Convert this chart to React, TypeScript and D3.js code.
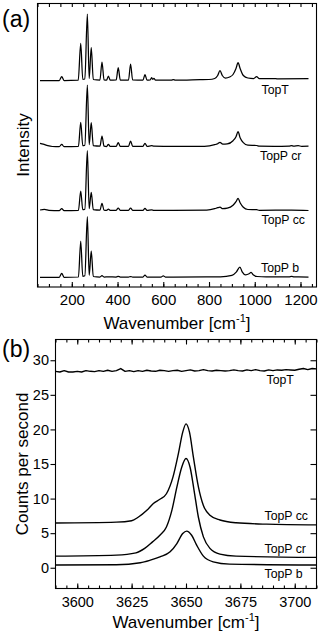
import React, { useRef, useEffect } from "react";
import * as d3 from "d3";

const W = 320;
const H = 634;
const FONT = "'Liberation Sans', Arial, Helvetica, sans-serif";

// ---- panel (a): Raman spectra, [wavenumber, intensity above its own baseline]
const ramanNames = ["TopT", "TopP cr", "TopP cc", "TopP b"];
const ramanOffsets = [206.5, 140.3, 76.3, 9.7];
const ramanLabelPos = [[261.5, 94], [260, 160], [261.5, 224], [261, 272]];

const ramanTopT = [
  [61, 0], [145, 0], [156, 3.8], [166, 0], [228, 0.3], [239, 37], [248, 1.2], [257, 1.5],
  [268, 66.5], [276, 2], [285, 33], [294, 1], [323, 0.5], [332, 18.5], [341, 0.5],
  [352, 0.3], [360, 4.5], [368, 0.3], [394, 0.5], [403, 12.8], [412, 0.5], [448, 0.5],
  [457, 16.5], [466, 0.5], [511, 0.3], [520, 5.8], [529, 0.3], [543, 0.5], [549, 2.8],
  [554, 1.2], [559, 2.2], [566, 0.3], [635, 0.3], [644, 1], [653, 0.3], [760, 0.8],
  [800, 1], [825, 2], [838, 5], [848, 9.8], [858, 5], [872, 2.5], [890, 3.5], [905, 6],
  [918, 12], [927, 17.8], [936, 12], [950, 5], [970, 2.5], [995, 2], [1008, 3.8],
  [1020, 1.8], [1085, 2], [1100, 1.6], [1235, 1.8],
];
const ramanTopPcr = [
  [61, 3.4], [75, 2.6], [95, 1], [115, 0.2], [145, 0], [156, 2.4], [166, 0], [229, 0.3],
  [239, 24.4], [248, 1], [257, 1.5], [268, 61.7], [276, 2], [285, 24], [294, 1], [323, 0.5],
  [332, 10.7], [341, 0.5], [352, 0.2], [360, 2.4], [368, 0.3], [394, 0.4], [403, 4],
  [412, 0.4], [448, 0.4], [457, 5.7], [466, 0.4], [511, 0.3], [520, 3.4], [529, 0.3],
  [549, 1], [559, 0.6], [644, 0.4], [780, 0.4], [825, 2], [838, 3], [848, 4.4], [860, 2.5],
  [880, 2.8], [905, 6], [918, 10], [927, 15], [936, 9], [950, 4], [970, 1.5], [1008, 1.2],
  [1020, 0.5], [1085, 0.4], [1150, 0.6], [1161, 1.2], [1170, 0.5], [1190, 1], [1205, 0.4],
  [1235, 0.5],
];
const ramanTopPcc = [
  [61, 0.7], [80, 1.3], [100, 0.4], [145, 0], [156, 2], [166, 0], [229, 0.3], [239, 19.7],
  [248, 1], [257, 1.5], [268, 60], [276, 2], [285, 18.4], [294, 1], [323, 0.5], [332, 7.4],
  [341, 0.5], [352, 0.3], [360, 1.5], [368, 0.3], [394, 0.4], [403, 2.6], [412, 0.4],
  [448, 0.4], [457, 2.6], [466, 0.4], [511, 0.3], [520, 2.4], [529, 0.3], [549, 0.8],
  [559, 0.4], [644, 0.4], [790, 0.6], [825, 2], [838, 3], [848, 3.5], [860, 2], [880, 2.5],
  [905, 5.5], [918, 9], [927, 12.4], [936, 8], [950, 3.5], [970, 1.2], [1008, 1],
  [1020, 0.4], [1161, 0.6], [1235, 0.2],
];
const ramanTopPb = [
  [61, 0], [145, 0], [156, 4], [166, 0], [229, 0.3], [239, 36.3], [248, 1], [257, 1.5],
  [268, 60.6], [276, 2], [285, 26.3], [294, 0.8], [323, 0.3], [332, 1.6], [341, 0.3],
  [360, 0.5], [394, 0.3], [403, 1], [412, 0.3], [448, 0.3], [457, 0.8], [466, 0.3],
  [511, 0.3], [520, 2.3], [529, 0.3], [591, 0.3], [600, 1.5], [609, 0.3], [644, 0.3],
  [850, 0.5], [900, 2], [920, 5.5], [935, 10.3], [945, 5.5], [960, 2.5], [975, 3.5],
  [984, 5], [993, 2.5], [1010, 0.8], [1050, 0.4], [1150, 0.5], [1161, 0.9], [1172, 0.4],
  [1235, 0.3],
];
const ramanSeries = [ramanTopT, ramanTopPcr, ramanTopPcc, ramanTopPb];
const ramanTickLabels = [200, 400, 600, 800, 1000, 1200];

// ---- panel (b): OH stretch region, counts per second
const irNames = ["TopT", "TopP cc", "TopP cr", "TopP b"];
const irLabelPos = [[266.5, 384], [264.5, 520], [264.5, 552.5], [264.5, 577.5]];

// TopT sampled every 2 cm-1 from 3590
const irTopTStart = 3590;
const irTopTStep = 2;
const irTopT = [
  28.4, 28.3, 28.5, 28.3, 28.3, 28.4, 28.3, 28.5, 28.4, 28.35,
  28.5, 28.4, 28.55, 28.4, 28.5, 28.8, 28.4, 28.5, 28.35, 28.5,
  28.4, 28.55, 28.45, 28.4, 28.55, 28.5, 28.4, 28.5, 28.55, 28.4,
  28.5, 28.6, 28.45, 28.5, 28.65, 28.5, 28.45, 28.55, 28.5, 28.45,
  28.5, 28.6, 28.5, 28.45, 28.6, 28.5, 28.65, 28.5, 28.45, 28.6,
  28.5, 28.6, 28.55, 28.65, 28.6, 28.55, 28.7, 28.8, 28.65, 28.8, 28.75,
];
const irTopPcc = [
  [3590, 6.48], [3618, 6.6], [3625, 6.8], [3628, 7.3], [3632, 8.3], [3635, 9.3],
  [3638, 9.9], [3641, 10.7], [3644, 13.1], [3646.5, 16.5], [3648.5, 19.6], [3650, 20.8],
  [3651.6, 19.6], [3653.4, 16], [3655.7, 11.7], [3658, 9], [3661, 7.6], [3665.6, 6.9],
  [3673, 6.5], [3687, 6.3], [3710, 6.2],
];
const irTopPcr = [
  [3590, 1.68], [3618, 1.83], [3627, 2.16], [3631, 2.8], [3634.6, 3.74], [3638, 4.7],
  [3641, 5.9], [3643.5, 8.3], [3645.8, 11.66], [3648, 14.5], [3650, 15.8], [3651.9, 14.5],
  [3653.7, 11.2], [3655.7, 7.3], [3658, 4.46], [3661, 2.8], [3665.6, 1.97], [3673, 1.68],
  [3710, 1.5],
];
const irTopPb = [
  [3590, 0.39], [3618, 0.43], [3629, 0.72], [3633.6, 1.1], [3638, 1.58], [3642.7, 2.3],
  [3645.8, 3.5], [3648.5, 4.95], [3650.3, 5.3], [3652.6, 4.7], [3654.9, 3.27], [3658, 1.68],
  [3662.5, 0.86], [3670, 0.53], [3710, 0.39],
];
const irYTicks = [0, 5, 10, 15, 20, 25, 30];
const irXTicks = [3600, 3625, 3650, 3675, 3700];

const fmt = d3.format("d");

function styleAxis(g: any, size: number) {
  g.select(".domain").remove();
  g.attr("font-family", FONT).attr("font-size", size);
  g.selectAll("text").attr("fill", "#000");
  g.selectAll("line").attr("stroke", "#000").attr("stroke-width", 1.1);
}

function xLabel(svg: any, x: number, y: number) {
  const t = svg.append("text")
    .attr("x", x).attr("y", y)
    .attr("text-anchor", "middle")
    .attr("font-family", FONT).attr("font-size", 17);
  t.append("tspan").text("Wavenumber [cm");
  t.append("tspan").attr("font-size", 11).attr("dy", -7).text("-1");
  t.append("tspan").attr("dy", 7).text("]");
}

export default function App() {
  const ref = useRef<SVGSVGElement>(null);

  useEffect(() => {
    const svg = d3.select(ref.current);
    svg.selectAll("*").remove();

    // ================= panel (a)
    const aL = 37.5, aR = 316.5, aT = 3.5, aB = 287;
    const xA = d3.scaleLinear().domain([50, 1270]).range([aL, aR]);
    const yA = d3.scaleLinear().domain([0, aB - aT]).range([aB, aT]);

    ramanSeries.forEach((s, i) => {
      const line = d3.line<number[]>()
        .x((d) => xA(d[0]))
        .y((d) => yA(d[1] + ramanOffsets[i]))
        .curve(d3.curveMonotoneX);
      svg.append("path")
        .datum(s)
        .attr("fill", "none")
        .attr("stroke", "#000")
        .attr("stroke-width", 1.25)
        .attr("stroke-linejoin", "round")
        .attr("d", line);
    });

    const minorA = xA.ticks(24);
    svg.append("g").attr("transform", `translate(0,${aB})`)
      .call(d3.axisBottom(xA).tickValues(minorA).tickSize(-3).tickFormat(() => ""))
      .call((g) => styleAxis(g, 15));
    svg.append("g").attr("transform", `translate(0,${aB})`)
      .call(d3.axisBottom(xA).tickValues(ramanTickLabels).tickSize(-5).tickPadding(7.4).tickFormat(fmt as any))
      .call((g) => styleAxis(g, 15));
    svg.append("g").attr("transform", `translate(0,${aT})`)
      .call(d3.axisTop(xA).tickValues(minorA).tickSize(-3.5).tickFormat(() => ""))
      .call((g) => styleAxis(g, 15));

    svg.append("rect")
      .attr("x", aL).attr("y", aT)
      .attr("width", aR - aL).attr("height", aB - aT)
      .attr("fill", "none").attr("stroke", "#000").attr("stroke-width", 1.1);

    ramanNames.forEach((n, i) => {
      svg.append("text")
        .attr("x", ramanLabelPos[i][0]).attr("y", ramanLabelPos[i][1])
        .attr("font-family", FONT).attr("font-size", 12.3)
        .text(n);
    });

    svg.append("text")
      .attr("transform", `translate(29,145) rotate(-90)`)
      .attr("text-anchor", "middle")
      .attr("font-family", FONT).attr("font-size", 17)
      .text("Intensity");
    xLabel(svg, 177, 328.5);
    svg.append("text").attr("x", 2).attr("y", 27)
      .attr("font-family", FONT).attr("font-size", 23).text("(a)");

    // ================= panel (b)
    const bL = 55.5, bR = 316.5, bT = 339.5, bB = 588.5;
    const xB = d3.scaleLinear().domain([3590, 3710]).range([bL, bR]);
    const yB = d3.scaleLinear().domain([-3, 33]).range([bB, bT]);

    const smooth = d3.line<number[]>()
      .x((d) => xB(d[0]))
      .y((d) => yB(d[1]))
      .curve(d3.curveMonotoneX);
    const noisy = d3.line<number[]>()
      .x((d) => xB(d[0]))
      .y((d) => yB(d[1]));
    const topT = irTopT.map((v, i) => [irTopTStart + i * irTopTStep, v]);
    [topT, irTopPcc, irTopPcr, irTopPb].forEach((s, i) => {
      svg.append("path")
        .datum(s)
        .attr("fill", "none")
        .attr("stroke", "#000")
        .attr("stroke-width", 1.4)
        .attr("stroke-linejoin", "round")
        .attr("d", (i === 0 ? noisy : smooth) as any);
    });

    const minorB = xB.ticks(24);
    svg.append("g").attr("transform", `translate(0,${bB})`)
      .call(d3.axisBottom(xB).tickValues(minorB).tickSize(-3).tickFormat(() => ""))
      .call((g) => styleAxis(g, 14.5));
    svg.append("g").attr("transform", `translate(0,${bB})`)
      .call(d3.axisBottom(xB).tickValues(irXTicks).tickSize(-5).tickPadding(8.7).tickFormat(fmt as any))
      .call((g) => styleAxis(g, 14.5));
    svg.append("g").attr("transform", `translate(0,${bT})`)
      .call(d3.axisTop(xB).tickValues(minorB).tickSize(-3).tickFormat(() => ""))
      .call((g) => styleAxis(g, 14.5));
    svg.append("g").attr("transform", `translate(0,${bT})`)
      .call(d3.axisTop(xB).tickValues(irXTicks).tickSize(-5).tickFormat(() => ""))
      .call((g) => styleAxis(g, 14.5));
    svg.append("g").attr("transform", `translate(${bL},0)`)
      .call(d3.axisLeft(yB).tickValues(irYTicks).tickSize(5).tickPadding(1.5).tickFormat(fmt as any))
      .call((g) => styleAxis(g, 14.5));
    svg.append("g").attr("transform", `translate(${bR},0)`)
      .call(d3.axisRight(yB).tickValues(irYTicks).tickSize(-6).tickFormat(() => ""))
      .call((g) => styleAxis(g, 14.5));

    svg.append("rect")
      .attr("x", bL).attr("y", bT)
      .attr("width", bR - bL).attr("height", bB - bT)
      .attr("fill", "none").attr("stroke", "#000").attr("stroke-width", 1.1);

    irNames.forEach((n, i) => {
      svg.append("text")
        .attr("x", irLabelPos[i][0]).attr("y", irLabelPos[i][1])
        .attr("font-family", FONT).attr("font-size", 12.3)
        .text(n);
    });

    svg.append("text")
      .attr("transform", `translate(28,464) rotate(-90)`)
      .attr("text-anchor", "middle")
      .attr("font-family", FONT).attr("font-size", 17)
      .text("Counts per second");
    xLabel(svg, 186, 628);
    svg.append("text").attr("x", 2).attr("y", 357)
      .attr("font-family", FONT).attr("font-size", 23).text("(b)");
  }, []);

  return (
    <svg
      ref={ref}
      width={W}
      height={H}
      style={{ position: "absolute", left: 0, top: 0, background: "#fff" }}
    />
  );
}
